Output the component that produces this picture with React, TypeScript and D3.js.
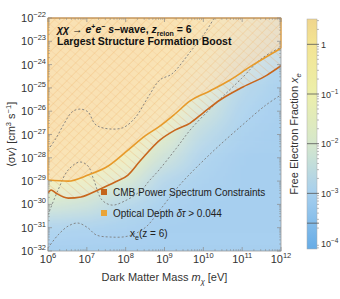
import React from 'react';
import * as d3 from 'd3';

const W = 340;
const H = 299;

// axis decades
const massDecades = [6, 7, 8, 9, 10, 11, 12];
const svDecades = [-22, -23, -24, -25, -26, -27, -28, -29, -30, -31, -32];
const cbDecades = [0, -1, -2, -3, -4];
const cbLabels = ['1', '10', '10', '10', '10'];
const cbSup = ['', '−1', '−2', '−3', '−4'];
const cbMarks = [0, -1, -2, -3, -3.6];

// background field: log10 x_e, rows = svDecades, cols = massDecades
const xeGrid: number[][] = [
  [0.2, 0.2, 0.2, 0.1, -0.6, -1.8, -2.5],
  [0.2, 0.2, 0.2, 0.0, -1.0, -2.2, -2.8],
  [0.2, 0.2, 0.2, -0.2, -1.5, -2.6, -3.0],
  [0.2, 0.2, 0.15, -0.5, -1.9, -2.85, -3.1],
  [0.2, 0.2, 0.0, -1.0, -2.3, -3.0, -3.15],
  [0.1, 0.0, -0.35, -1.7, -2.7, -3.1, -3.2],
  [-0.2, -0.45, -1.1, -2.3, -3.0, -3.2, -3.2],
  [-1.0, -1.3, -2.0, -2.9, -3.1, -3.2, -3.2],
  [-2.1, -2.3, -2.85, -3.1, -3.2, -3.2, -3.2],
  [-3.0, -3.05, -3.1, -3.2, -3.2, -3.2, -3.2],
  [-3.2, -3.2, -3.2, -3.2, -3.2, -3.2, -3.2],
];

// CMB power spectrum constraint (log10 m [eV], log10 <sv>)
const cmbLogM = [6.0, 6.08, 6.2, 6.52, 6.85, 7.29, 7.73, 8.06, 8.37, 8.88, 9.27, 9.66, 9.99, 10.43, 11.02, 11.64, 12.0];
const cmbLogSv = [-29.51, -29.38, -29.51, -29.73, -29.68, -29.38, -29.04, -28.74, -28.14, -27.24, -26.81, -26.51, -26.08, -25.52, -24.96, -24.45, -24.05];

// Optical depth constraint
const tauLogM = [6.0, 6.52, 7.03, 7.55, 8.06, 8.5, 8.88, 9.27, 9.66, 10.17, 10.69, 11.2, 12.0];
const tauLogSv = [-28.95, -29.0, -28.74, -28.35, -27.67, -27.06, -26.64, -26.12, -25.56, -25.13, -24.66, -24.1, -23.3];

// x_e(z = 6) contours (dashed)
const contourA_m = [6.0, 6.21, 6.41, 6.62, 6.82, 7.03, 7.21, 7.42, 7.91, 8.24, 8.58, 8.88, 9.19, 9.66, 10.04, 10.28];
const contourA_sv = [-27.67, -27.15, -26.55, -26.03, -25.91, -26.03, -26.55, -26.72, -26.72, -26.29, -25.39, -24.66, -24.4, -23.46, -22.64, -22.0];
const contourB_m = [6.0, 6.26, 6.52, 6.82, 7.03, 7.18, 7.39, 7.65, 7.98, 8.4, 8.6, 8.86, 9.3, 9.69, 10.33, 10.98, 11.49, 12.0];
const contourB_sv = [-30.45, -29.38, -28.52, -28.18, -28.35, -28.95, -29.81, -30.03, -29.85, -29.4, -29.0, -28.52, -27.6, -26.75, -25.65, -24.6, -23.75, -23.25];
const contourC_m = [6.0, 6.26, 6.52, 6.77, 7.03, 7.24, 7.6, 8.06, 8.5, 8.9, 9.4, 10.2, 11.0, 11.6, 12.0];
const contourC_sv = [-31.87, -31.31, -30.93, -30.8, -31.01, -31.31, -31.4, -31.36, -31.0, -30.2, -29.15, -27.8, -26.6, -25.75, -25.3];

const legendItems = [
  { label: 'CMB Power Spectrum Constraints', color: '#c4651c' },
  { label: 'Optical Depth ', color: '#e9a438' },
];

const FONT = 'Liberation Sans, Arial, Helvetica, sans-serif';

const L = 48, R = 281, T = 18, B = 251;

export default function App() {
  const x = d3.scaleLinear().domain([6, 12]).range([L, R]);
  const y = d3.scaleLinear().domain([-22, -32]).range([T, B]);
  const cbTop = 19, cbBot = 249, cbL = 307, cbR = 317;
  const cy = d3.scaleLinear().domain([0.51, -4.12]).range([cbTop, cbBot]);
  const color = d3
    .scaleLinear<string>()
    .domain([-4.12, -3, -2, -1, 0, 0.51])
    .range(['#66ace6', '#a6cfee', '#d6e7cc', '#ecefaa', '#f3e493', '#f0d68d'])
    .interpolate(d3.interpolateRgb);

  const dx = x(7) - x(6);
  const dy = y(-23) - y(-22);

  const cells: JSX.Element[] = [];
  xeGrid.forEach((row, i) => {
    row.forEach((v, j) => {
      const cx = x(massDecades[j]);
      const cyy = y(svDecades[i]);
      let x0 = cx - dx / 2, x1 = cx + dx / 2, y0 = cyy - dy / 2, y1 = cyy + dy / 2;
      if (j === 0) x0 -= dx * 1.5;
      if (j === row.length - 1) x1 += dx * 1.5;
      if (i === 0) y0 -= dy * 2;
      if (i === xeGrid.length - 1) y1 += dy * 2;
      cells.push(
        <rect key={`c${i}-${j}`} x={x0} y={y0} width={x1 - x0 + 0.5} height={y1 - y0 + 0.5} fill={color(v)} />
      );
    });
  });

  const lineGen = d3
    .line<[number, number]>()
    .x((d) => x(d[0]))
    .y((d) => y(d[1]))
    .curve(d3.curveMonotoneX);
  const smooth = d3
    .line<[number, number]>()
    .x((d) => x(d[0]))
    .y((d) => y(d[1]))
    .curve(d3.curveCatmullRom.alpha(0.5));
  const areaGen = d3
    .area<[number, number]>()
    .x((d) => x(d[0]))
    .y0(y(-21))
    .y1((d) => y(d[1]))
    .curve(d3.curveMonotoneX);

  const zip = (a: number[], b: number[]) => a.map((v, i) => [v, b[i]] as [number, number]);
  const cmb = zip(cmbLogM, cmbLogSv);
  const tau = zip(tauLogM, tauLogSv);
  const contours = [
    zip(contourA_m, contourA_sv),
    zip(contourB_m, contourB_sv),
    zip(contourC_m, contourC_sv),
  ];

  const minorX: number[] = [];
  massDecades.slice(0, -1).forEach((d) => {
    for (let k = 2; k <= 9; k++) minorX.push(d + Math.log10(k));
  });
  const minorY: number[] = [];
  svDecades.slice(1).forEach((d) => {
    for (let k = 2; k <= 9; k++) minorY.push(d + Math.log10(k));
  });
  const cbMinor: number[] = [];
  [0, -1, -2, -3, -4].forEach((d) => {
    for (let k = 2; k <= 9; k++) {
      const v = d + Math.log10(k);
      if (v <= 0.51 && v >= -4.12) cbMinor.push(v);
    }
  });
  cbMinor.push(-4 - Math.log10(10 / 9), -4 - Math.log10(10 / 8));

  const tickColor = '#8a8a8a';
  const textColor = '#333';

  return (
    <svg width={W} height={H} viewBox={`0 0 ${W} ${H}`} style={{ position: 'absolute', left: 0, top: 0, background: '#fff' }} fontFamily={FONT}>
      <defs>
        <clipPath id="plotClip">
          <rect x={L} y={T} width={R - L} height={B - T} />
        </clipPath>
        <filter id="blurF" x="-20%" y="-20%" width="140%" height="140%">
          <feGaussianBlur stdDeviation="14 9" />
        </filter>
        <pattern id="hatchCMB" patternUnits="userSpaceOnUse" width="6.5" height="6.5" patternTransform="rotate(-50)">
          <line x1="0" y1="0" x2="0" y2="6.5" stroke="#eaa25e" strokeWidth="0.6" strokeOpacity="0.85" />
        </pattern>
        <pattern id="hatchTau" patternUnits="userSpaceOnUse" width="6.5" height="6.5" patternTransform="rotate(45)">
          <line x1="0" y1="0" x2="0" y2="6.5" stroke="#eeae60" strokeWidth="0.6" strokeOpacity="0.85" />
        </pattern>
        <linearGradient id="cbGrad" x1="0" y1="1" x2="0" y2="0">
          {d3.range(0, 1.0001, 0.05).map((t) => (
            <stop key={t} offset={t} stopColor={color(-4.12 + t * (0.51 + 4.12))} />
          ))}
        </linearGradient>
      </defs>

      {/* background field */}
      <g clipPath="url(#plotClip)">
        <rect x={L} y={T} width={R - L} height={B - T} fill="#fff" />
        <g filter="url(#blurF)" opacity={0.87}>{cells}</g>
        {/* constraint regions */}
        <path d={areaGen(cmb) || ''} fill="#fdeedc" fillOpacity={0.3} />
        <path d={areaGen(cmb) || ''} fill="url(#hatchCMB)" />
        <path d={areaGen(tau) || ''} fill="#fbdcb4" fillOpacity={0.55} />
        <path d={areaGen(tau) || ''} fill="url(#hatchTau)" />
        {/* contours */}
        {contours.map((c, i) => (
          <path key={i} d={smooth(c) || ''} fill="none" stroke="#7d7d7d" strokeWidth={0.9} strokeDasharray="2,2" />
        ))}
        <path d={lineGen(tau) || ''} fill="none" stroke="#e79a2a" strokeWidth={1.6} />
        <path d={lineGen(cmb) || ''} fill="none" stroke="#c8661d" strokeWidth={1.6} />
      </g>

      {/* frame */}
      <rect x={L} y={T} width={R - L} height={B - T} fill="none" stroke="#9a9a9a" strokeWidth={0.8} />
      <line x1={L} x2={L} y1={T} y2={y(-28.95)} stroke="#e9a23c" strokeWidth={1.2} />
      <line x1={L} x2={R} y1={T} y2={T} stroke="#d08a33" strokeWidth={1.2} />
      <line x1={R} x2={R} y1={T} y2={y(-23.3)} stroke="#e9a23c" strokeWidth={1.2} />

      {/* ticks */}
      {massDecades.map((d) => (
        <g key={`xt${d}`}>
          <line x1={x(d)} x2={x(d)} y1={B} y2={B - 4} stroke={tickColor} strokeWidth={0.7} />
          <line x1={x(d)} x2={x(d)} y1={T} y2={T + 4} stroke={tickColor} strokeWidth={0.7} />
        </g>
      ))}
      {minorX.map((d, i) => (
        <g key={`xm${i}`}>
          <line x1={x(d)} x2={x(d)} y1={B} y2={B - 2} stroke={tickColor} strokeWidth={0.5} />
          <line x1={x(d)} x2={x(d)} y1={T} y2={T + 2} stroke={tickColor} strokeWidth={0.5} />
        </g>
      ))}
      {svDecades.map((d) => (
        <g key={`yt${d}`}>
          <line x1={L} x2={L + 4} y1={y(d)} y2={y(d)} stroke={tickColor} strokeWidth={0.7} />
          <line x1={R} x2={R - 4} y1={y(d)} y2={y(d)} stroke={tickColor} strokeWidth={0.7} />
        </g>
      ))}
      {minorY.map((d, i) => (
        <g key={`ym${i}`}>
          <line x1={L} x2={L + 2} y1={y(d)} y2={y(d)} stroke={tickColor} strokeWidth={0.5} />
          <line x1={R} x2={R - 2} y1={y(d)} y2={y(d)} stroke={tickColor} strokeWidth={0.5} />
        </g>
      ))}

      {/* x tick labels */}
      {massDecades.map((d) => (
        <text key={`xl${d}`} x={x(d)} y={263} textAnchor="middle" fontSize={11} fill={textColor}>
          10<tspan dy={-5} fontSize={7.5}>{d}</tspan>
        </text>
      ))}
      {/* y tick labels */}
      {svDecades.map((d) => (
        <text key={`yl${d}`} x={46} y={y(d) + 4} textAnchor="end" fontSize={11} fill={textColor}>
          10<tspan dy={-5} fontSize={7.5}>{`−${Math.abs(d)}`}</tspan>
        </text>
      ))}

      {/* axis titles */}
      <text x={(L + R) / 2} y={281} textAnchor="middle" fontSize={11} fill={textColor}>
        Dark Matter Mass <tspan fontStyle="italic">m</tspan>
        <tspan dy={2.5} fontSize={7.5} fontStyle="italic">χ</tspan>
        <tspan dy={-2.5}> [eV]</tspan>
      </text>
      <text transform={`translate(15,${(T + B) / 2}) rotate(-90)`} textAnchor="middle" fontSize={11} fill={textColor}>
        ⟨σ<tspan fontStyle="italic">v</tspan>⟩ [cm<tspan dy={-4} fontSize={7.5}>3</tspan>
        <tspan dy={4}> s</tspan>
        <tspan dy={-4} fontSize={7.5}>−1</tspan>
        <tspan dy={4}>]</tspan>
      </text>

      {/* in-plot title */}
      <text x={57} y={33} fontSize={10.5} fontWeight="bold" fill="#111">
        <tspan fontStyle="italic">χχ</tspan> → <tspan fontStyle="italic">e</tspan>
        <tspan dy={-4} fontSize={7}>+</tspan>
        <tspan dy={4} fontStyle="italic">e</tspan>
        <tspan dy={-4} fontSize={7}>−</tspan>
        <tspan dy={4}> </tspan>
        <tspan fontStyle="italic">s</tspan>–wave, <tspan fontStyle="italic">z</tspan>
        <tspan dy={2.5} fontSize={7}>reion</tspan>
        <tspan dy={-2.5}> = 6</tspan>
      </text>
      <text x={57} y={45} fontSize={10.5} fontWeight="bold" fill="#111">
        Largest Structure Formation Boost
      </text>

      {/* legend */}
      {legendItems.map((it, i) => (
        <g key={it.label}>
          <rect x={101} y={189 + i * 21} width={6} height={6} fill={it.color} />
          <text x={113} y={195.5 + i * 21} fontSize={10} fill="#222">
            {it.label}
            {i === 1 ? (
              <>
                <tspan fontStyle="italic">δτ</tspan> {'> 0.044'}
              </>
            ) : null}
          </text>
        </g>
      ))}
      <text x={130} y={237} fontSize={10} fill="#222">
        x<tspan dy={2.5} fontSize={7}>e</tspan>
        <tspan dy={-2.5}>(z = 6)</tspan>
      </text>

      {/* colorbar */}
      <rect x={cbL} y={cbTop} width={cbR - cbL} height={cbBot - cbTop} fill="url(#cbGrad)" stroke="#aaa" strokeWidth={0.5} />
      {cbMarks.map((v) => (
        <line key={`cbm${v}`} x1={cbL} x2={cbR + 2} y1={cy(v)} y2={cy(v)} stroke="#555" strokeWidth={0.8} />
      ))}
      {cbMinor.map((v, i) => (
        <line key={`cbn${i}`} x1={cbR} x2={cbR + 2} y1={cy(v)} y2={cy(v)} stroke="#777" strokeWidth={0.5} />
      ))}
      {cbDecades.map((v, i) => (
        <text key={`cbl${v}`} x={321} y={cy(v) + 3.5} fontSize={9} fill={textColor}>
          {cbLabels[i]}
          {cbSup[i] ? <tspan dy={-4} fontSize={6.5}>{cbSup[i]}</tspan> : null}
        </text>
      ))}
      <text transform={`translate(298,${(cbTop + cbBot) / 2}) rotate(-90)`} textAnchor="middle" fontSize={11} fill={textColor}>
        Free Electron Fraction <tspan fontStyle="italic">x</tspan>
        <tspan dy={2.5} fontSize={7.5} fontStyle="italic">e</tspan>
      </text>
    </svg>
  );
}
